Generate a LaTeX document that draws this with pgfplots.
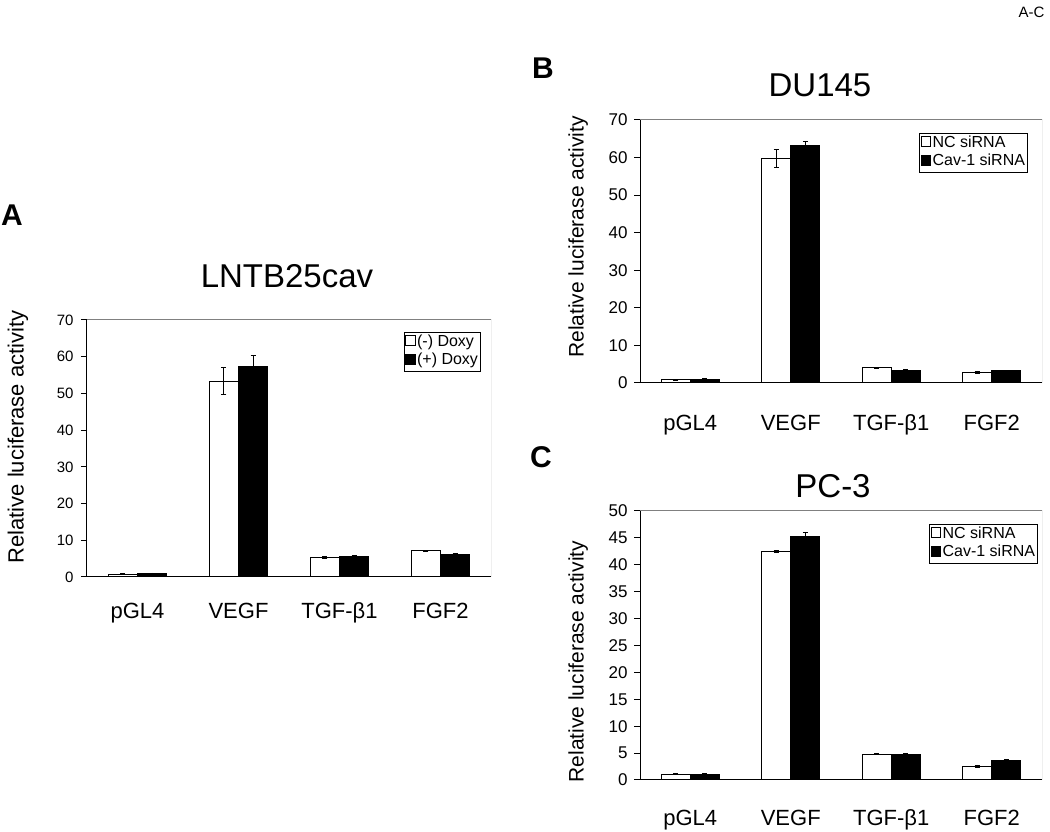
\documentclass[border=0pt]{standalone}
\usepackage{pgfplots}
\pgfplotsset{compat=1.18}
\usepackage{pgfplotstable}
\usepackage{fontspec}
\setmainfont{Liberation Sans}

% columns: category, white bar, its error, black bar, its error
\pgfplotstableread{
x w we b be
0 0.8 0.1 1.0 0.1
1 53.3 3.7 57.3 3.0
2 5.3 0.3 5.7 0.2
3 7.1 0.1 6.2 0.2
}\dataA
\pgfplotstableread{
x w we b be
0 0.9 0.1 1.0 0.1
1 59.8 2.3 63.1 1.1
2 4.0 0.1 3.4 0.1
3 2.9 0.3 3.3 0.1
}\dataB
\pgfplotstableread{
x w we b be
0 1.1 0.1 1.1 0.2
1 42.5 0.2 45.3 0.7
2 4.8 0.1 4.8 0.2
3 2.6 0.2 3.7 0.2
}\dataC

\newcommand{\fs}[1]{\fontsize{#1}{#1}\selectfont}

\pgfplotsset{
  panel/.style={
    scale only axis,
    anchor=south west,
    ybar=0pt,
    bar width=0.29,
    xmin=-0.5, xmax=3.5,
    ymin=0,
    axis x line*=bottom,
    axis y line*=left,
    axis line style={line width=1pt, black},
    xtick={0,1,2,3},
    xticklabels={pGL4, VEGF, TGF-β1, FGF2},
    x tick style={draw=none},
    xticklabel style={font=\fs{22}, text height=16pt, text depth=5pt},
    y tick style={line width=1pt, black},
    tick align=outside,
    major tick length=6pt,
    /pgf/number format/assume math mode=true,
    ylabel={Relative luciferase activity},
    legend cell align=left,
    legend image code/.code={\draw[##1, line width=0.8pt] (0pt,-3pt) rectangle (9.5pt,7pt);},
    legend style={draw=black, line width=0.8pt, fill=white, inner xsep=1pt, inner ysep=1pt,
      row sep=0pt, nodes={inner sep=1.5pt, text height=11.5pt, text depth=4pt}},
    error bars/error bar style={line width=0.8pt, black},
    error bars/error mark options={rotate=90, mark size=2.5pt, line width=0.8pt, black},
  },
  wbar/.style={fill=white, draw=black, line width=1pt, bar shift=-0.145,
    error bars/.cd, y dir=both, y explicit},
  bbar/.style={fill=black, draw=black, line width=1pt, bar shift=0.145,
    error bars/.cd, y dir=both, y explicit},
}

\begin{document}
\begin{tikzpicture}[x=1pt, y=1pt]
\path[use as bounding box] (0,0) rectangle (1050,832);

% panel A
\begin{axis}[panel, at={(87pt,255pt)}, width=404pt, height=257pt,
  ymax=70, ytick distance=10,
  yticklabel style={font=\fs{15}, xshift=-4pt},
  ylabel style={font=\fs{22}, at={(axis description cs:-0.171,0.545)}, anchor=center},
  xticklabel style={yshift=-16pt},
  legend style={font=\fs{16}, at={(0.975,0.953)}, anchor=north east}]
\addplot[wbar] table[x=x, y=w, y error=we] {\dataA};
\addplot[bbar] table[x=x, y=b, y error=be] {\dataA};
\legend{(-) Doxy, (+) Doxy}
\draw[gray, line width=1pt] (rel axis cs:0,1) -- (rel axis cs:1,1) -- (rel axis cs:1,0);
\end{axis}

% panel B
\begin{axis}[panel, at={(640pt,449pt)}, width=402pt, height=263pt,
  ymax=70, ytick distance=10,
  yticklabel style={font=\fs{17}, xshift=-3pt},
  ylabel style={font=\fs{21}, at={(axis description cs:-0.154,0.555)}, anchor=center},
  xticklabel style={yshift=-22pt},
  legend style={font=\fs{16}, at={(0.965,0.951)}, anchor=north east}]
\addplot[wbar] table[x=x, y=w, y error=we] {\dataB};
\addplot[bbar] table[x=x, y=b, y error=be] {\dataB};
\legend{NC siRNA, Cav-1 siRNA}
\draw[gray, line width=1pt] (rel axis cs:0,1) -- (rel axis cs:1,1) -- (rel axis cs:1,0);
\end{axis}

% panel C
\begin{axis}[panel, at={(640pt,52pt)}, width=402pt, height=269pt,
  ymax=50, ytick distance=5,
  yticklabel style={font=\fs{17}, xshift=-3pt},
  ylabel style={font=\fs{21}, at={(axis description cs:-0.154,0.44)}, anchor=center},
  xticklabel style={yshift=-20pt},
  legend style={font=\fs{16}, at={(0.99,0.952)}, anchor=north east}]
\addplot[wbar] table[x=x, y=w, y error=we] {\dataC};
\addplot[bbar] table[x=x, y=b, y error=be] {\dataC};
\legend{NC siRNA, Cav-1 siRNA}
\draw[gray, line width=1pt] (rel axis cs:0,1) -- (rel axis cs:1,1) -- (rel axis cs:1,0);
\end{axis}

% panel letters and titles
\node[font=\fs{30}\bfseries] at (12,617) {A};
\node[font=\fs{33}] at (287,556) {LNTB25cav};
\node[font=\fs{30}\bfseries] at (543,764) {B};
\node[font=\fs{33}] at (820,747) {DU145};
\node[font=\fs{30}\bfseries] at (541,375) {C};
\node[font=\fs{33}] at (833,346) {PC-3};
\node[font=\fs{15}, anchor=east] at (1048,820) {A-C};
\end{tikzpicture}
\end{document}
